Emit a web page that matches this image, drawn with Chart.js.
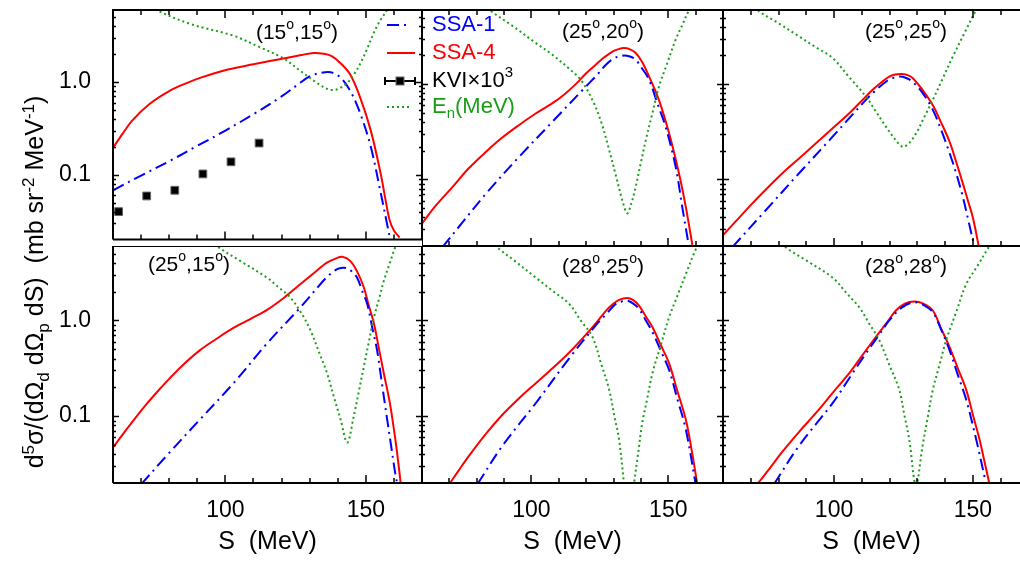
<!DOCTYPE html>
<html>
<head>
<meta charset="utf-8">
<script src="https://cdn.jsdelivr.net/npm/chart.js@4.4.1/dist/chart.umd.min.js"></script>
<style>
  html, body { margin: 0; padding: 0; background: #fff; }
  body { width: 1020px; height: 561px; position: relative; overflow: hidden;
         font-family: "Liberation Sans", Arial, sans-serif; }
  canvas { position: absolute; }
  #c00 { z-index: 2; }
  #yTitle { position: absolute; left: 34px; top: 282px; width: 500px; height: 30px;
            margin-left: -250px; margin-top: -15px; line-height: 30px;
            text-align: center; white-space: nowrap; font-size: 25px; color: #000;
            transform: rotate(-90deg); z-index: 3; }
  #yTitle sup, #yTitle sub { font-size: 17px; line-height: 0; }
</style>
</head>
<body>
<canvas id="c00" width="560" height="246" style="left:0;top:0"></canvas>
<canvas id="c01" width="301" height="246" style="left:422px;top:0"></canvas>
<canvas id="c02" width="297" height="246" style="left:723px;top:0"></canvas>
<canvas id="c10" width="422" height="315" style="left:0;top:246px"></canvas>
<canvas id="c11" width="301" height="315" style="left:422px;top:246px"></canvas>
<canvas id="c12" width="297" height="315" style="left:723px;top:246px"></canvas>
<div id="yTitle">d<sup>5</sup>σ/(dΩ<sub>d</sub> dΩ<sub>p</sub> dS)&nbsp;&nbsp;(mb sr<sup>-2</sup> MeV<sup>-1</sup>)</div>

<script>
// ---- data: S (MeV) and cross sections (mb sr^-2 MeV^-1) ----
const xLabelTicks = [100, 150];
const yLabelTicks = [0.1, 1];

// (15°,15°)
const p1_ssa1_S = [60, 70, 80, 90, 100, 110, 120, 126, 130, 134, 137.5, 141, 144.5, 148, 151.7, 155.2, 157.6, 159];
const p1_ssa1   = [0.068, 0.098, 0.14, 0.205, 0.30, 0.45, 0.70, 0.95, 1.15, 1.26, 1.28, 1.12, 0.80, 0.46, 0.204, 0.066, 0.029, 0.018];
const p1_ssa4_S = [60, 63.5, 67, 73, 80, 86, 91, 100.5, 110, 120.7, 127, 131.5, 135, 138, 141, 144.5, 148, 151.7, 155.2, 157.2, 158.5, 160, 162];
const p1_ssa4   = [0.195, 0.28, 0.389, 0.58, 0.80, 0.97, 1.11, 1.36, 1.56, 1.80, 1.96, 2.06, 2.02, 1.90, 1.60, 1.20, 0.68, 0.305, 0.106, 0.05, 0.032, 0.025, 0.021];
const p1_en_S   = [60, 68, 75.5, 88, 102.8, 112, 120.7, 127, 132.6, 136, 138.6, 141, 143.4, 145.7, 148.1, 150.5, 152.9, 155, 157.6, 162];
const p1_en     = [12, 8.5, 6, 4.2, 3.17, 2.4, 1.80, 1.3, 0.98, 0.85, 0.82, 0.87, 0.98, 1.2, 1.6, 2.3, 3.44, 4.56, 6, 10];
const kvi_S     = [62, 72, 82, 92, 102, 112];
const kvi       = [0.040, 0.059, 0.068, 0.102, 0.138, 0.22];

// (25°,20°)
const p2_ssa1_S = [67.5, 75, 83.4, 95.5, 107.7, 119.9, 124, 127.2, 130, 133.2, 136, 138.1, 140.5, 143, 146, 149, 152.7, 155.1, 157.6];
const p2_ssa1   = [0.0195, 0.036, 0.071, 0.173, 0.404, 0.944, 1.25, 1.6, 1.85, 1.99, 1.95, 1.8, 1.45, 1.11, 0.63, 0.358, 0.136, 0.0515, 0.0195];
const p2_ssa4_S = [60, 65, 71.2, 77, 83.4, 89, 95.5, 101, 107.7, 112, 116.2, 120, 123.5, 126.5, 129.6, 131.8, 133.8, 136, 138.1, 140.5, 143, 146.6, 150.3, 153.9, 156.4, 159];
const p2_ssa4   = [0.0344, 0.053, 0.0836, 0.13, 0.195, 0.27, 0.373, 0.48, 0.631, 0.78, 1.0, 1.3, 1.6, 1.9, 2.2, 2.33, 2.39, 2.32, 2.12, 1.7, 1.2, 0.68, 0.305, 0.116, 0.0515, 0.019];
const p2_en_S   = [70, 78, 84.6, 93, 101.6, 107.5, 113.8, 118, 122.3, 125.5, 128.4, 131, 133.2, 135, 136.5, 138.1, 139.9, 141.8, 144, 146.6, 149.5, 152.7, 155, 157.6, 162];
const p2_en     = [14, 8.5, 6, 4.1, 2.7, 2.05, 1.45, 1.11, 0.68, 0.40, 0.204, 0.106, 0.0605, 0.044, 0.056, 0.0836, 0.146, 0.26, 0.47, 0.944, 1.62, 2.93, 4.1, 6, 10];

// (25°,25°)
const p3_ssa1_S = [63.4, 75.4, 87.4, 99.5, 105.5, 111.5, 115, 118.7, 121, 123.5, 126, 128.3, 132, 135.6, 138.5, 141.6, 144, 146.4, 148.5, 150.6];
const p3_ssa1   = [0.0195, 0.0475, 0.116, 0.281, 0.44, 0.684, 0.86, 1.06, 1.15, 1.2, 1.16, 1.06, 0.80, 0.537, 0.336, 0.19, 0.116, 0.0656, 0.036, 0.0195];
const p3_ssa4_S = [60, 64.5, 69.4, 75, 81.4, 87.5, 93.5, 99.5, 105.5, 110, 113.9, 117, 119.9, 122, 124.2, 126.3, 128.3, 132, 135.6, 138.5, 141.6, 144, 146.4, 148.3, 150, 152.2];
const p3_ssa4   = [0.026, 0.036, 0.0515, 0.076, 0.116, 0.167, 0.239, 0.345, 0.495, 0.67, 0.871, 1.04, 1.2, 1.26, 1.28, 1.25, 1.16, 0.86, 0.60, 0.40, 0.25, 0.153, 0.0908, 0.059, 0.040, 0.0195];
const p3_en_S   = [65, 72.4, 80, 87.4, 93.5, 99.5, 105.5, 111.5, 115, 118.7, 121.5, 124.7, 127, 129.6, 132.5, 135.6, 139, 142.8, 147, 151.2, 156];
const p3_en     = [10, 6, 4.36, 3.17, 2.43, 1.88, 1.18, 0.741, 0.52, 0.358, 0.275, 0.22, 0.24, 0.305, 0.45, 0.684, 1.12, 1.95, 3.44, 6, 10];

// (25°,15°)
const p4_ssa1_S = [70.1, 79.1, 91, 102.9, 114.8, 126.7, 133.8, 137, 139.8, 141.8, 143.4, 145, 146.9, 148.7, 150.5, 152.3, 154, 155.8, 157.6, 159, 160.6, 161.5];
const p4_ssa1   = [0.0195, 0.0386, 0.0925, 0.221, 0.574, 1.37, 2.39, 3.0, 3.43, 3.55, 3.51, 3.25, 2.8, 2.04, 1.49, 0.84, 0.49, 0.213, 0.0925, 0.049, 0.024, 0.018];
const p4_ssa4_S = [60, 64, 68, 72, 76, 80, 85, 91, 97, 103, 109, 115, 121, 126, 131, 136, 139, 141.6, 144.5, 147, 149.3, 151, 152.9, 154.6, 156.4, 158.5, 160, 161.2, 162.4];
const p4_ssa4   = [0.047, 0.0676, 0.096, 0.134, 0.183, 0.245, 0.345, 0.49, 0.647, 0.84, 1.04, 1.30, 1.74, 2.3, 3.04, 4.0, 4.40, 4.62, 4.17, 3.2, 2.21, 1.45, 0.925, 0.52, 0.281, 0.14, 0.073, 0.04, 0.02];
const p4_en_S   = [92, 96.9, 105.8, 114.8, 119, 123.1, 127, 130.3, 133.3, 136.2, 138.8, 141, 143.4, 145.7, 147.5, 149.3, 151, 152.9, 154.7, 156.4, 158.5, 160.6, 163];
const p4_en     = [8, 6, 4.1, 2.8, 2.21, 1.74, 1.2, 0.788, 0.47, 0.281, 0.153, 0.0925, 0.053, 0.1, 0.18, 0.329, 0.58, 1.08, 1.68, 2.59, 3.95, 6, 9];

// (28°,25°)
const p5_ssa1_S = [80.3, 89.4, 101.6, 113.8, 123.5, 127.5, 130.8, 133, 135, 137.2, 139.3, 141.8, 144.2, 147.3, 150.3, 153.4, 156.4, 160];
const p5_ssa1   = [0.0195, 0.049, 0.137, 0.402, 0.888, 1.18, 1.49, 1.58, 1.61, 1.5, 1.32, 1.0, 0.757, 0.48, 0.304, 0.148, 0.073, 0.0195];
const p5_ssa4_S = [70, 73.5, 77.3, 83.5, 89.4, 95.5, 101.6, 106.5, 111.3, 115.5, 119.9, 123.5, 127.2, 130, 132, 135, 137.2, 139.3, 141.8, 144.2, 147.3, 150.3, 153.4, 156.4, 158.5, 160.6];
const p5_ssa4   = [0.0195, 0.0273, 0.0389, 0.066, 0.1035, 0.154, 0.221, 0.295, 0.394, 0.519, 0.711, 0.933, 1.26, 1.5, 1.64, 1.72, 1.63, 1.43, 1.1, 0.853, 0.55, 0.356, 0.18, 0.0925, 0.045, 0.0195];
const p5_en_S   = [82, 87, 94, 101.6, 108, 113.8, 118, 122.3, 125.5, 128.4, 130.3, 132, 133.8, 135.5, 137.5, 139, 140.5, 142.3, 144.2, 147.3, 150.3, 153.3, 156.4, 160, 163];
const p5_en     = [9, 6, 4.17, 2.8, 2.01, 1.49, 1.0, 0.673, 0.35, 0.189, 0.1, 0.0574, 0.02, 0.007, 0.02, 0.041, 0.0855, 0.152, 0.281, 0.556, 1.08, 1.8, 3.04, 5.5, 8];

// (28°,28°)
const p6_ssa1_S = [78.4, 87.4, 99.5, 105.5, 111.5, 116, 119.9, 124.5, 128.9, 132.3, 135.6, 138.6, 141.6, 144.6, 147.6, 151.2, 154.8];
const p6_ssa1   = [0.0195, 0.049, 0.137, 0.249, 0.453, 0.69, 1.0, 1.37, 1.55, 1.45, 1.22, 0.80, 0.49, 0.27, 0.149, 0.0574, 0.0195];
const p6_ssa4_S = [72.4, 76.5, 81.4, 87.5, 93.5, 99.5, 105.5, 110.5, 115.1, 118.8, 122.3, 125.5, 128.9, 132.2, 135.6, 138.6, 141.6, 144.6, 147.6, 150, 152.4, 154.2, 156];
const p6_ssa4   = [0.0195, 0.0276, 0.0425, 0.069, 0.108, 0.175, 0.281, 0.444, 0.673, 0.93, 1.27, 1.5, 1.58, 1.5, 1.27, 0.82, 0.53, 0.316, 0.189, 0.104, 0.0574, 0.0335, 0.0195];
const p6_en_S   = [75, 82, 90, 99.5, 104.5, 109.1, 112.5, 116.3, 120, 123.5, 125.3, 127.1, 129.5, 131.9, 133.7, 135.6, 138, 140.4, 144, 147.6, 151.5, 156, 160];
const p6_en     = [10, 6, 4.24, 2.8, 1.93, 1.37, 0.946, 0.621, 0.34, 0.189, 0.104, 0.057, 0.019, 0.049, 0.095, 0.189, 0.343, 0.621, 1.22, 2.39, 3.65, 6, 9];

const panelAngles = [['15', '15'], ['25', '20'], ['25', '25'], ['25', '15'], ['28', '25'], ['28', '28']];

// ---- styles ----
const BLUE  = '#0000ff';
const RED   = '#ff0000';
const GREEN = '#1a9e1a';
const FONT  = '"Liberation Sans", Arial, sans-serif';
Chart.defaults.font.family = FONT;
Chart.defaults.color = '#000';

const pts = (xs, ys) => xs.map((x, i) => ({ x: x, y: ys[i] }));

// text with superscript / subscript pieces: parts = [[text, shift]], shift 1 = sup, -1 = sub
function drawRich(ctx, parts, x, y, size, color, align) {
  const small = Math.round(size * 0.68);
  const widths = parts.map(([t, s]) => {
    ctx.font = (s ? small : size) + 'px ' + FONT;
    return ctx.measureText(t).width;
  });
  const total = widths.reduce((a, b) => a + b, 0);
  let cx = align === 'center' ? x - total / 2 : x;
  ctx.fillStyle = color;
  ctx.textBaseline = 'middle';
  ctx.textAlign = 'left';
  parts.forEach(([t, s], i) => {
    ctx.font = (s ? small : size) + 'px ' + FONT;
    const dy = s === 1 ? -size * 0.38 : s === -1 ? size * 0.3 : 0;
    ctx.fillText(t, cx, y + dy);
    cx += widths[i];
  });
}

//  Frame with inward ticks on every side
const frameTicks = {
  id: 'frameTicks',
  afterDatasetsDraw(chart, args, o) {
    const { ctx, chartArea: a } = chart;
    const xs = chart.scales.x, ys = chart.scales.y;
    ctx.save();
    ctx.strokeStyle = '#000';
    ctx.lineWidth = 1.5;
    ctx.beginPath();
    for (let v = Math.ceil(xs.min / 10) * 10; v < xs.max; v += 10) {
      if (v <= xs.min) continue;
      const px = Math.round(xs.getPixelForValue(v));
      const len = v % 50 === 0 ? 8 : 5;
      ctx.moveTo(px, a.bottom); ctx.lineTo(px, a.bottom - len);
      if (o.topTicks) { ctx.moveTo(px, a.top); ctx.lineTo(px, a.top + len); }
    }
    for (let e = -2; e <= 1; e++) {
      for (let k = 1; k <= 9; k++) {
        const v = k * Math.pow(10, e);
        if (v <= ys.min || v >= ys.max) continue;
        const py = Math.round(ys.getPixelForValue(v)) + 0.5;
        const len = k === 1 ? 6 : 3;
        ctx.moveTo(a.left, py); ctx.lineTo(a.left + len, py);
        if (o.rightSide) { ctx.moveTo(a.right, py); ctx.lineTo(a.right - len, py); }
      }
    }
    ctx.stroke();
    ctx.lineWidth = 2;
    ctx.beginPath();
    ctx.moveTo(a.left, a.bottom); ctx.lineTo(a.left, a.top); ctx.lineTo(a.right + 1, a.top);
    ctx.moveTo(a.left, a.bottom); ctx.lineTo(a.right + 1, a.bottom);
    if (o.rightSide) { ctx.moveTo(a.right, a.top); ctx.lineTo(a.right, a.bottom); }
    ctx.stroke();
    ctx.restore();
  }
};

//  Angle label like (15°,15°), drawn with a superscript "o"
const panelLabel = {
  id: 'panelLabel',
  afterDatasetsDraw(chart, args, o) {
    const { ctx, chartArea: a } = chart;
    const parts = [['(' + o.angles[0], 0], ['o', 1], [',' + o.angles[1], 0], ['o', 1], [')', 0]];
    ctx.save();
    drawRich(ctx, parts, a.left + o.dx, a.top + o.dy, 21, '#000', 'center');
    ctx.restore();
  }
};

//  Legend: samples inside the first panel, labels spill into the next one
const keyBox = {
  id: 'keyBox',
  afterDraw(chart, args, o) {
    if (!o.show) return;
    const { ctx, chartArea: a } = chart;
    const x0 = a.right - 35, x1 = a.right - 7, tx = a.right + 10;
    const rows = [
      { y: 15, color: BLUE,  parts: [['SSA-1', 0]], kind: 'dashdot' },
      { y: 43, color: RED,   parts: [['SSA-4', 0]], kind: 'solid' },
      { y: 71, color: '#000', parts: [['KVI×10', 0], ['3', 1]], kind: 'data' },
      { y: 97, color: GREEN, parts: [['E', 0], ['n', -1], ['(MeV)', 0]], kind: 'dots' },
    ];
    ctx.save();
    rows.forEach(r => {
      const y = a.top + r.y;
      ctx.beginPath();
      ctx.lineWidth = 2;
      ctx.strokeStyle = r.color;
      if (r.kind === 'dashdot') ctx.setLineDash([12, 5, 2, 5]);
      else if (r.kind === 'dots') ctx.setLineDash([2, 3]);
      else ctx.setLineDash([]);
      if (r.kind === 'data') {
        ctx.moveTo(x0 - 2, y); ctx.lineTo(x1, y);
        ctx.moveTo(x0 - 2, y - 4); ctx.lineTo(x0 - 2, y + 4);
        ctx.moveTo(x1, y - 4); ctx.lineTo(x1, y + 4);
        ctx.stroke();
        ctx.setLineDash([]);
        ctx.fillStyle = '#000';
        ctx.fillRect((x0 + x1) / 2 - 5, y - 4, 8, 8);
        ctx.strokeStyle = '#666'; ctx.lineWidth = 1;
        ctx.strokeRect((x0 + x1) / 2 - 5, y - 4, 8, 8);
      } else {
        ctx.moveTo(x0, y); ctx.lineTo(r.kind === 'solid' ? x1 : x1 - 5, y);
        ctx.stroke();
      }
      ctx.setLineDash([]);
      drawRich(ctx, r.parts, tx, y, 22, r.color, 'left');
    });
    ctx.restore();
  }
};

function makePanel(p) {
  const datasets = [
    { data: pts(p.enS, p.en), borderColor: GREEN, borderWidth: 2, borderDash: [2, 3] },
    { data: pts(p.s1S, p.s1), borderColor: BLUE, borderWidth: 2, borderDash: [12, 5, 2, 5] },
    { data: pts(p.s4S, p.s4), borderColor: RED, borderWidth: 2 },
  ].map(d => Object.assign(d, { pointRadius: 0, fill: false, tension: 0.35 }));
  if (p.kvi) {
    datasets.push({ data: pts(kvi_S, kvi), showLine: false, pointStyle: 'rect', pointRadius: 5.5,
                    backgroundColor: '#000', borderColor: '#666', borderWidth: 1 });
  }
  new Chart(document.getElementById(p.id), {
    type: 'line',
    data: { datasets: datasets },
    options: {
      responsive: false,
      devicePixelRatio: 1,
      animation: false,
      events: [],
      layout: { padding: { top: p.padTop, right: p.padRight, left: 0, bottom: 0 } },
      scales: {
        x: {
          type: 'linear', min: 60, max: p.xMax, display: p.showX,
          grid: { display: false }, border: { display: false },
          afterBuildTicks: s => { s.ticks = xLabelTicks.map(v => ({ value: v })); },
          ticks: { font: { size: 23 }, color: '#000', padding: 6, maxRotation: 0, autoSkip: false },
          title: { display: true, text: 'S  (MeV)', font: { size: 25 }, color: '#000', padding: { top: 0, bottom: 4 } },
          afterFit: s => {
            if (p.showX) s.height = 78;
            s.paddingLeft = 0; s.paddingRight = 0;
          },
        },
        y: {
          type: 'logarithmic', min: 0.02, max: 6, display: p.showY,
          grid: { display: false }, border: { display: false },
          afterBuildTicks: s => { s.ticks = yLabelTicks.map(v => ({ value: v })); },
          ticks: { font: { size: 23 }, color: '#000', padding: 14, autoSkip: false,
                   callback: v => (v === 1 ? '1.0' : String(v)) },
          afterFit: s => {
            if (p.showY) s.width = 113;
            s.paddingTop = 0; s.paddingBottom = 0;
          },
        },
      },
      plugins: {
        legend: { display: false },
        tooltip: { enabled: false },
        frameTicks: { topTicks: p.padTop > 0, rightSide: p.rightSide },
        panelLabel: { angles: p.angles, dx: p.labelDx, dy: p.labelDy },
        keyBox: { show: !!p.legend },
      },
    },
    plugins: [frameTicks, panelLabel, keyBox],
  });
}

const panels = [
  { id: 'c00', s1S: p1_ssa1_S, s1: p1_ssa1, s4S: p1_ssa4_S, s4: p1_ssa4, enS: p1_en_S, en: p1_en, kvi: true, legend: true,
    angles: panelAngles[0], xMax: 170, showX: false, showY: true, padTop: 10, padRight: 138, rightSide: true, labelDx: 184, labelDy: 23 },
  { id: 'c01', s1S: p2_ssa1_S, s1: p2_ssa1, s4S: p2_ssa4_S, s4: p2_ssa4, enS: p2_en_S, en: p2_en,
    angles: panelAngles[1], xMax: 170, showX: false, showY: false, padTop: 10, padRight: 0, rightSide: true, labelDx: 181, labelDy: 22 },
  { id: 'c02', s1S: p3_ssa1_S, s1: p3_ssa1, s4S: p3_ssa4_S, s4: p3_ssa4, enS: p3_en_S, en: p3_en,
    angles: panelAngles[2], xMax: 167, showX: false, showY: false, padTop: 10, padRight: 0, rightSide: false, labelDx: 183, labelDy: 22 },
  { id: 'c10', s1S: p4_ssa1_S, s1: p4_ssa1, s4S: p4_ssa4_S, s4: p4_ssa4, enS: p4_en_S, en: p4_en,
    angles: panelAngles[3], xMax: 170, showX: true, showY: true, padTop: 0, padRight: 0, rightSide: true, labelDx: 76, labelDy: 19 },
  { id: 'c11', s1S: p5_ssa1_S, s1: p5_ssa1, s4S: p5_ssa4_S, s4: p5_ssa4, enS: p5_en_S, en: p5_en,
    angles: panelAngles[4], xMax: 170, showX: true, showY: false, padTop: 0, padRight: 0, rightSide: true, labelDx: 181, labelDy: 21 },
  { id: 'c12', s1S: p6_ssa1_S, s1: p6_ssa1, s4S: p6_ssa4_S, s4: p6_ssa4, enS: p6_en_S, en: p6_en,
    angles: panelAngles[5], xMax: 167, showX: true, showY: false, padTop: 0, padRight: 0, rightSide: false, labelDx: 183, labelDy: 21 },
];

panels.forEach(makePanel);
</script>
</body>
</html>
